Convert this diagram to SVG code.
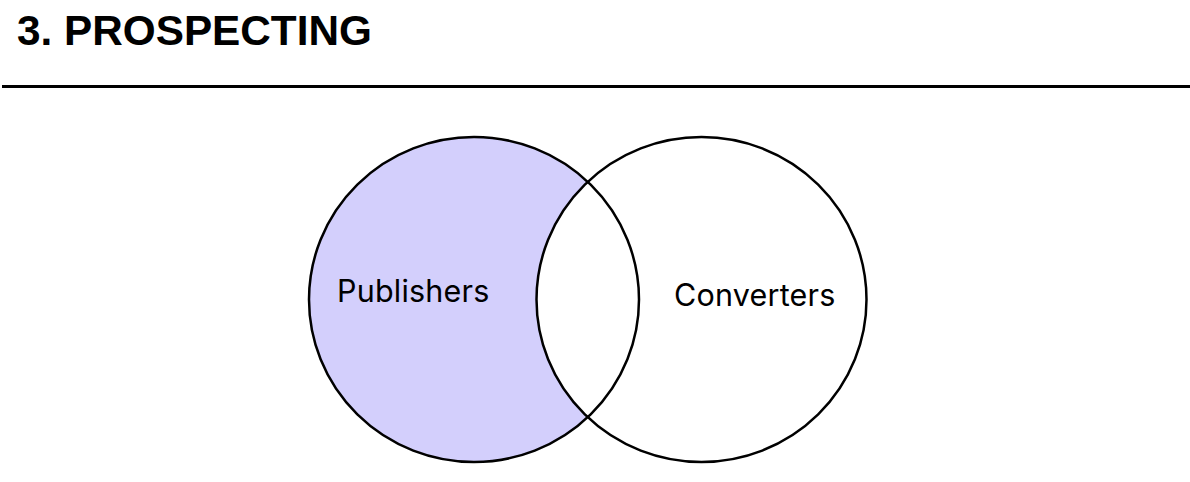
<svg xmlns="http://www.w3.org/2000/svg" width="1190" height="482" viewBox="0 0 1190 482">
<style>
.title{font-family:"Liberation Sans",Arial,sans-serif;font-weight:bold;font-size:42.3px;fill:#000}
.lbl{font-family:Inter,"Liberation Sans",sans-serif;font-size:30.5px;letter-spacing:0.2px;fill:#000}
.ring{fill:none;stroke:#000;stroke-width:2.5}
</style>
<rect width="1190" height="482" fill="#fff"/>
<text class="title" x="17" y="45">3. PROSPECTING</text>
<line x1="2" y1="86.5" x2="1190" y2="86.5" stroke="#000" stroke-width="3"/>
<g id="publishers">
<ellipse cx="474" cy="299.5" rx="165" ry="162.5" fill="#d3cffc"/>
</g>
<g id="converters">
<ellipse cx="701.5" cy="299.5" rx="165" ry="162.5" fill="#fff"/>
<ellipse class="ring" cx="701.5" cy="299.5" rx="165" ry="162.5"/>
<text class="lbl" x="674" y="306">Converters</text>
</g>
<g id="publishers-outline">
<ellipse class="ring" cx="474" cy="299.5" rx="165" ry="162.5"/>
<text class="lbl" x="337" y="302">Publishers</text>
</g>
</svg>
